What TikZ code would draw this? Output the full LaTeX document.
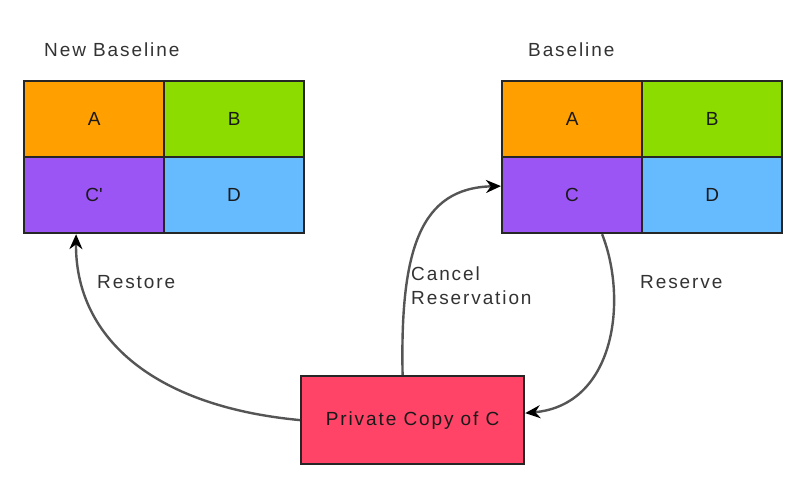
\documentclass[tikz,border=0pt]{standalone}
\usepackage{fontspec}
\setmainfont{Liberation Sans}[LetterSpace=10]
\usetikzlibrary{arrows.meta,calc}
\definecolor{corange}{HTML}{FF9F00}
\definecolor{cgreen}{HTML}{8CDC00}
\definecolor{cpurple}{HTML}{9B55F5}
\definecolor{cblue}{HTML}{66BBFF}
\definecolor{cpink}{HTML}{FF4468}
\definecolor{ctext}{HTML}{1A1A1A}
\definecolor{clabel}{HTML}{333333}
\definecolor{cline}{HTML}{555555}
\begin{document}
\begin{tikzpicture}[x=1pt,y=-1pt,
  cell/.style={draw=black!85,line width=2.2pt,minimum width=140pt,minimum height=76pt,
    anchor=north west,inner sep=0pt,font=\fontsize{19}{22}\selectfont,text=ctext},
  title/.style={anchor=west,inner sep=0pt,font=\fontsize{19}{22}\selectfont,text=clabel},
  lbl/.style={anchor=west,inner sep=0pt,font=\fontsize{19}{24}\selectfont,text=clabel,align=left},
  conn/.style={draw=cline,line width=2.4pt,-{Stealth[length=15pt,width=13pt,color=black]}}]
\useasboundingbox (0,0) rectangle (797,484);
\fill[white] (0,0) rectangle (797,484);
% left grid
\node[title] (t1) at (44,50) {New Baseline};
\node[cell,fill=corange] (la) at (23,80) {A};
\node[cell,fill=cgreen] (lb) at (163,80) {B};
\node[cell,fill=cpurple] (lc) at (23,156) {C\textquotesingle};
\node[cell,fill=cblue] (ld) at (163,156) {D};
% right grid
\node[title] (t2) at (528,50) {Baseline};
\node[cell,fill=corange] (ra) at (501,80) {A};
\node[cell,fill=cgreen] (rb) at (641,80) {B};
\node[cell,fill=cpurple] (rc) at (501,156) {C};
\node[cell,fill=cblue] (rd) at (641,156) {D};
% private copy
\node[draw=black!85,line width=2.2pt,fill=cpink,minimum width=223pt,minimum height=88pt,
  anchor=north west,inner sep=0pt,font=\fontsize{19}{22}\selectfont,text=ctext] (pc) at (300,375) {Private Copy of C};
% connectors
\draw[conn] (pc.west) .. controls (150,406) and (75,335) .. ([xshift=-18pt]lc.south);
\draw[conn] ([xshift=-10pt]pc.north) .. controls (400,250) and (420,188) .. ([yshift=9pt]rc.west);
\draw[conn] ([xshift=30pt]rc.south) .. controls (628,300) and (615,405) .. ([yshift=7pt]pc.east);
% labels
\node[lbl] (l1) at (97,282) {Restore};
\node[lbl] (l2) at (411,286) {Cancel\\Reservation};
\node[lbl] (l3) at (640,282) {Reserve};
\end{tikzpicture}
\end{document}
